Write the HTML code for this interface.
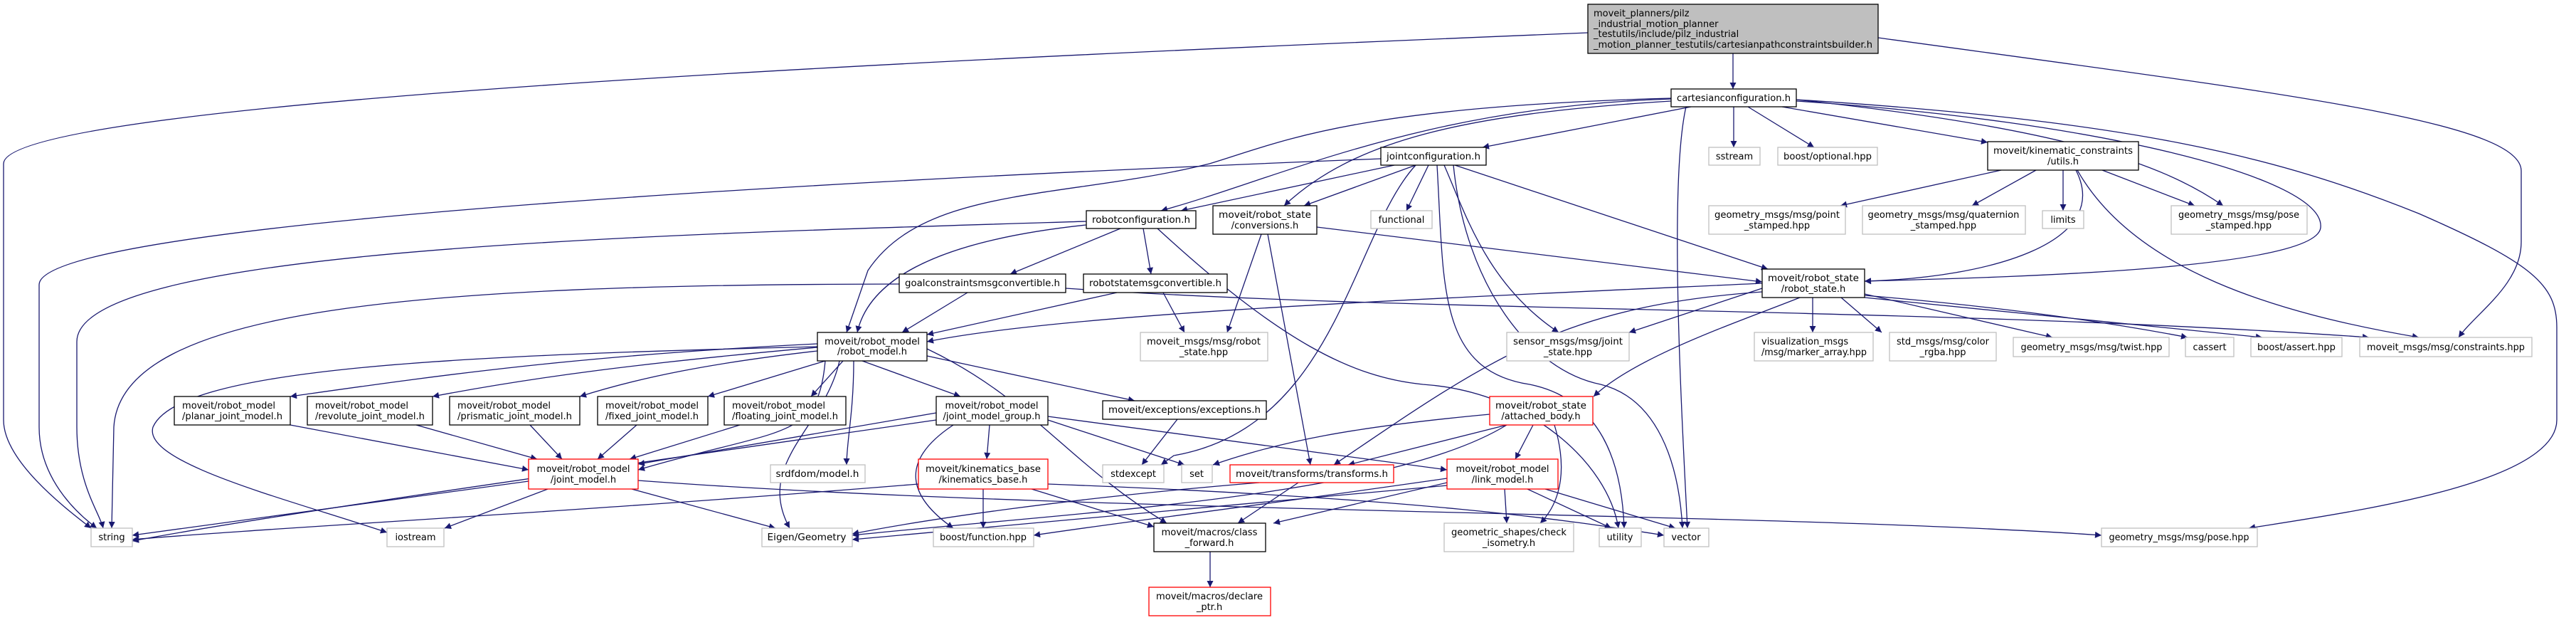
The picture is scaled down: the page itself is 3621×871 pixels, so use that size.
<!DOCTYPE html>
<html><head><meta charset="utf-8"><style>
html,body{margin:0;padding:0;background:#fff;width:3621px;height:871px;overflow:hidden}
svg text{font-family:"DejaVu Sans","Liberation Sans",sans-serif;font-size:13px;fill:#000}
.e{fill:none;stroke:#191970;stroke-width:1.3}
.n{fill:#fff;stroke:#000;stroke-width:1.3}
.g{fill:#fff;stroke:#bfbfbf;stroke-width:1.3}
.r{fill:#fff;stroke:#ff0000;stroke-width:1.3}
</style></head><body>
<svg width="3621" height="871" viewBox="0 0 3621 871" xmlns="http://www.w3.org/2000/svg">
<defs><marker id="a" viewBox="0 0 10 10" refX="10" refY="5" markerWidth="10" markerHeight="9" markerUnits="userSpaceOnUse" orient="auto"><path d="M0,0 L10,5 L0,10 z" fill="#191970"/></marker></defs>
<g class="e" marker-end="url(#a)">
<path d="M2436 75 L2436 125"/>
<path d="M2232 46 C1400 80 5 140 5 230 L5 590 C5 650 100 720 128 742"/>
<path d="M2640 53 C3200 130 3544 170 3544 240 L3544 340 C3544 400 3480 440 3456 474"/>
<path d="M2525 140 C3000 170 3200 220 3400 300 C3560 370 3594 400 3594 460 L3594 590 C3594 680 3300 720 3161 742"/>
<path d="M2525 142 C2950 170 3270 250 3262 320 C3255 380 2800 390 2621 395"/>
<path d="M2525 140 C2900 180 3040 230 3125 289"/>
<path d="M2505 150 L2794 200"/>
<path d="M2457 150 L2550 207"/>
<path d="M2437 150 L2437 207"/>
<path d="M2377 150 L2084 207"/>
<path d="M2370 150 C2345 260 2365 600 2372 742"/>
<path d="M2349 138 C1900 150 1800 200 1700 230 C1500 280 1300 260 1220 380 L1190 467"/>
<path d="M2349 139 C2000 150 1800 250 1632 296"/>
<path d="M2349 142 C2050 160 1900 200 1805 289"/>
<path d="M1941 223 C1000 260 55 320 55 400 L55 600 C55 680 120 730 136 742"/>
<path d="M1527 311 C900 330 108 350 108 480 L108 600 C108 680 140 720 145 742"/>
<path d="M1264 399 C600 400 170 430 160 600 L157 742"/>
<path d="M1960 232 L1660 296"/>
<path d="M1990 232 L1833 289"/>
<path d="M2008 232 L1977 296"/>
<path d="M2045 232 L2485 378"/>
<path d="M2030 232 C2060 300 2090 400 2191 467"/>
<path d="M2020 232 C2030 400 2020 520 2150 540 C2250 560 2280 650 2283 742"/>
<path d="M2043 232 C2060 400 2150 520 2250 540 C2330 560 2360 650 2365 742"/>
<path d="M1990 232 C1900 330 1880 600 1650 640 L1632 653"/>
<path d="M1575 321 L1420 385"/>
<path d="M1607 321 L1618 385"/>
<path d="M1527 316 C1300 340 1220 400 1205 467"/>
<path d="M1627 321 C1800 480 1900 530 2000 540 C2150 550 2260 650 2275 742"/>
<path d="M1851 319 L2477 396"/>
<path d="M1773 329 L1725 467"/>
<path d="M1782 329 L1842 653"/>
<path d="M1360 411 L1268 467"/>
<path d="M1498 405 C2000 440 2700 430 3330 474"/>
<path d="M1570 411 L1303 470"/>
<path d="M1635 411 L1665 467"/>
<path d="M2813 239 L2587 289"/>
<path d="M2862 239 L2772 289"/>
<path d="M2900 239 L2900 296"/>
<path d="M2955 239 L3085 289"/>
<path d="M2918 239 C2970 340 2800 390 2621 395"/>
<path d="M2920 239 C3000 380 3200 440 3400 474"/>
<path d="M2477 398 C2000 420 1500 440 1303 480"/>
<path d="M2477 405 L2290 467"/>
<path d="M2548 418 L2548 467"/>
<path d="M2588 418 L2645 467"/>
<path d="M2621 413 L2885 474"/>
<path d="M2621 415 C2800 430 2950 450 3075 474"/>
<path d="M2621 418 L3180 474"/>
<path d="M2530 418 C2450 450 2300 500 2240 557"/>
<path d="M2477 410 C2200 430 2100 500 1875 653"/>
<path d="M1149 483 C800 500 600 530 408 557"/>
<path d="M1149 488 C900 510 750 530 608 557"/>
<path d="M1149 493 C1000 510 900 530 815 557"/>
<path d="M1160 507 L995 557"/>
<path d="M1185 507 L1140 557"/>
<path d="M1212 507 L1350 557"/>
<path d="M1303 500 L1595 563"/>
<path d="M1200 507 C1200 580 1190 620 1190 653"/>
<path d="M1180 507 C1160 600 1060 650 1110 742"/>
<path d="M1149 487 C600 500 250 520 215 600 C200 650 400 700 544 748"/>
<path d="M1303 490 C1450 560 1500 650 1640 735"/>
<path d="M1160 507 C1150 620 1100 600 897 660"/>
<path d="M408 597 L743 660"/>
<path d="M585 597 L755 645"/>
<path d="M745 597 L790 645"/>
<path d="M895 597 L840 645"/>
<path d="M1040 597 L885 645"/>
<path d="M743 676 L186 752"/>
<path d="M770 687 L625 742"/>
<path d="M888 687 L1090 742"/>
<path d="M897 675 C1500 720 2500 720 2954 752"/>
<path d="M1391 597 L1387 645"/>
<path d="M1340 597 C1260 650 1280 700 1340 742"/>
<path d="M1473 590 L1665 653"/>
<path d="M1473 585 L2034 660"/>
<path d="M1316 590 C900 650 400 720 186 760"/>
<path d="M1316 580 L897 652"/>
<path d="M1382 687 L1382 742"/>
<path d="M1450 687 L1622 740"/>
<path d="M1291 680 C800 720 400 740 186 758"/>
<path d="M1473 680 C2000 700 2200 730 2339 752"/>
<path d="M1655 589 L1605 653"/>
<path d="M2155 597 L2130 645"/>
<path d="M2118 597 L1895 653"/>
<path d="M2094 582 C1900 600 1800 620 1705 653"/>
<path d="M2185 597 C2210 680 2180 720 2165 735"/>
<path d="M2118 597 C1950 700 1500 720 1198 752"/>
<path d="M1825 678 L1740 735"/>
<path d="M1770 678 C1500 700 1300 730 1198 750"/>
<path d="M2034 678 L1790 735"/>
<path d="M2115 687 L2118 735"/>
<path d="M2147 687 L2265 742"/>
<path d="M2172 687 L2355 742"/>
<path d="M2034 682 L1198 758"/>
<path d="M2034 672 C1700 720 1600 730 1453 752"/>
<path d="M1701 775 L1701 825"/>
</g>
<!-- nodes -->
<rect x="2232" y="6" width="408" height="69" fill="#bfbfbf" stroke="#000" stroke-width="1.3"/>
<text x="2240" y="23">moveit_planners/pilz</text>
<text x="2240" y="38">_industrial_motion_planner</text>
<text x="2240" y="52">_testutils/include/pilz_industrial</text>
<text x="2240" y="67" textLength="392" lengthAdjust="spacingAndGlyphs">_motion_planner_testutils/cartesianpathconstraintsbuilder.h</text>

<rect class="n" x="2349" y="125" width="176" height="25"/><text x="2437" y="142" text-anchor="middle" textLength="160" lengthAdjust="spacingAndGlyphs">cartesianconfiguration.h</text>
<rect class="n" x="1941" y="207" width="148" height="25"/><text x="2015" y="224" text-anchor="middle" textLength="132" lengthAdjust="spacingAndGlyphs">jointconfiguration.h</text>
<rect class="n" x="1527" y="296" width="154" height="25"/><text x="1604" y="313" text-anchor="middle" textLength="138" lengthAdjust="spacingAndGlyphs">robotconfiguration.h</text>
<rect class="n" x="1705" y="289" width="146" height="40"/><text x="1778" y="306" text-anchor="middle" textLength="130" lengthAdjust="spacingAndGlyphs">moveit/robot_state</text><text x="1778" y="321" text-anchor="middle">/conversions.h</text>
<rect class="g" x="1927" y="296" width="86" height="25"/><text x="1970" y="313" text-anchor="middle">functional</text>
<rect class="n" x="1264" y="385" width="234" height="26"/><text x="1381" y="402" text-anchor="middle" textLength="218" lengthAdjust="spacingAndGlyphs">goalconstraintsmsgconvertible.h</text>
<rect class="n" x="1523" y="385" width="202" height="26"/><text x="1624" y="402" text-anchor="middle" textLength="186" lengthAdjust="spacingAndGlyphs">robotstatemsgconvertible.h</text>
<rect class="g" x="2402" y="207" width="72" height="25"/><text x="2438" y="224" text-anchor="middle">sstream</text>
<rect class="g" x="2499" y="207" width="140" height="25"/><text x="2569" y="224" text-anchor="middle" textLength="124" lengthAdjust="spacingAndGlyphs">boost/optional.hpp</text>
<rect class="n" x="2794" y="199" width="212" height="40"/><text x="2900" y="216" text-anchor="middle" textLength="196" lengthAdjust="spacingAndGlyphs">moveit/kinematic_constraints</text><text x="2900" y="231" text-anchor="middle">/utils.h</text>
<rect class="g" x="2402" y="289" width="192" height="40"/><text x="2498" y="306" text-anchor="middle" textLength="176" lengthAdjust="spacingAndGlyphs">geometry_msgs/msg/point</text><text x="2498" y="321" text-anchor="middle">_stamped.hpp</text>
<rect class="g" x="2618" y="289" width="229" height="40"/><text x="2732" y="306" text-anchor="middle" textLength="213" lengthAdjust="spacingAndGlyphs">geometry_msgs/msg/quaternion</text><text x="2732" y="321" text-anchor="middle">_stamped.hpp</text>
<rect class="g" x="2871" y="296" width="58" height="25"/><text x="2900" y="313" text-anchor="middle">limits</text>
<rect class="g" x="3052" y="289" width="191" height="40"/><text x="3147" y="306" text-anchor="middle" textLength="170" lengthAdjust="spacingAndGlyphs">geometry_msgs/msg/pose</text><text x="3147" y="321" text-anchor="middle">_stamped.hpp</text>
<rect class="n" x="2477" y="378" width="144" height="40"/><text x="2549" y="395" text-anchor="middle" textLength="128" lengthAdjust="spacingAndGlyphs">moveit/robot_state</text><text x="2549" y="410" text-anchor="middle">/robot_state.h</text>
<rect class="n" x="1149" y="467" width="154" height="40"/><text x="1226" y="484" text-anchor="middle" textLength="134" lengthAdjust="spacingAndGlyphs">moveit/robot_model</text><text x="1226" y="498" text-anchor="middle">/robot_model.h</text>
<rect class="n" x="245" y="557" width="163" height="40"/><text x="256" y="574" textLength="131" lengthAdjust="spacingAndGlyphs">moveit/robot_model</text><text x="256" y="589" textLength="141" lengthAdjust="spacingAndGlyphs">/planar_joint_model.h</text>
<rect class="n" x="432" y="557" width="176" height="40"/><text x="443" y="574" textLength="131" lengthAdjust="spacingAndGlyphs">moveit/robot_model</text><text x="443" y="589" textLength="154" lengthAdjust="spacingAndGlyphs">/revolute_joint_model.h</text>
<rect class="n" x="632" y="557" width="183" height="40"/><text x="643" y="574" textLength="131" lengthAdjust="spacingAndGlyphs">moveit/robot_model</text><text x="643" y="589" textLength="161" lengthAdjust="spacingAndGlyphs">/prismatic_joint_model.h</text>
<rect class="n" x="840" y="557" width="155" height="40"/><text x="851" y="574" textLength="131" lengthAdjust="spacingAndGlyphs">moveit/robot_model</text><text x="851" y="589" textLength="131" lengthAdjust="spacingAndGlyphs">/fixed_joint_model.h</text>
<rect class="n" x="1018" y="557" width="171" height="40"/><text x="1029" y="574" textLength="131" lengthAdjust="spacingAndGlyphs">moveit/robot_model</text><text x="1029" y="589" textLength="149" lengthAdjust="spacingAndGlyphs">/floating_joint_model.h</text>
<rect class="r" x="743" y="645" width="154" height="42"/><text x="820" y="663" text-anchor="middle" textLength="131" lengthAdjust="spacingAndGlyphs">moveit/robot_model</text><text x="820" y="678" text-anchor="middle">/joint_model.h</text>
<rect class="g" x="1083" y="653" width="133" height="25"/><text x="1149" y="670" text-anchor="middle" textLength="117" lengthAdjust="spacingAndGlyphs">srdfdom/model.h</text>
<rect class="g" x="128" y="742" width="58" height="26"/><text x="157" y="759" text-anchor="middle">string</text>
<rect class="g" x="544" y="742" width="80" height="26"/><text x="584" y="759" text-anchor="middle">iostream</text>
<rect class="g" x="1071" y="742" width="127" height="26"/><text x="1134" y="759" text-anchor="middle" textLength="111" lengthAdjust="spacingAndGlyphs">Eigen/Geometry</text>
<rect class="g" x="1603" y="467" width="179" height="40"/><text x="1692" y="484" text-anchor="middle" textLength="160" lengthAdjust="spacingAndGlyphs">moveit_msgs/msg/robot</text><text x="1692" y="499" text-anchor="middle">_state.hpp</text>
<rect class="g" x="2118" y="467" width="172" height="40"/><text x="2204" y="484" text-anchor="middle" textLength="154" lengthAdjust="spacingAndGlyphs">sensor_msgs/msg/joint</text><text x="2204" y="499" text-anchor="middle">_state.hpp</text>
<rect class="n" x="1316" y="557" width="157" height="40"/><text x="1394" y="574" text-anchor="middle" textLength="131" lengthAdjust="spacingAndGlyphs">moveit/robot_model</text><text x="1394" y="589" text-anchor="middle" textLength="137" lengthAdjust="spacingAndGlyphs">/joint_model_group.h</text>
<rect class="n" x="1550" y="563" width="230" height="26"/><text x="1665" y="580" text-anchor="middle" textLength="214" lengthAdjust="spacingAndGlyphs">moveit/exceptions/exceptions.h</text>
<rect class="r" x="2094" y="557" width="145" height="40"/><text x="2166" y="574" text-anchor="middle" textLength="128" lengthAdjust="spacingAndGlyphs">moveit/robot_state</text><text x="2166" y="589" text-anchor="middle">/attached_body.h</text>
<rect class="r" x="1291" y="645" width="182" height="42"/><text x="1382" y="663" text-anchor="middle" textLength="162" lengthAdjust="spacingAndGlyphs">moveit/kinematics_base</text><text x="1382" y="678" text-anchor="middle">/kinematics_base.h</text>
<rect class="g" x="1550" y="653" width="86" height="25"/><text x="1593" y="670" text-anchor="middle">stdexcept</text>
<rect class="g" x="1661" y="653" width="43" height="25"/><text x="1682" y="670" text-anchor="middle">set</text>
<rect class="r" x="1729" y="653" width="230" height="25"/><text x="1844" y="670" text-anchor="middle" textLength="214" lengthAdjust="spacingAndGlyphs">moveit/transforms/transforms.h</text>
<rect class="r" x="2034" y="645" width="156" height="42"/><text x="2112" y="663" text-anchor="middle" textLength="131" lengthAdjust="spacingAndGlyphs">moveit/robot_model</text><text x="2112" y="678" text-anchor="middle">/link_model.h</text>
<rect class="g" x="1312" y="742" width="141" height="26"/><text x="1382" y="759" text-anchor="middle" textLength="122" lengthAdjust="spacingAndGlyphs">boost/function.hpp</text>
<rect class="n" x="1622" y="735" width="157" height="40"/><text x="1700" y="752" text-anchor="middle" textLength="135" lengthAdjust="spacingAndGlyphs">moveit/macros/class</text><text x="1700" y="767" text-anchor="middle">_forward.h</text>
<rect class="g" x="2030" y="735" width="182" height="40"/><text x="2121" y="752" text-anchor="middle" textLength="162" lengthAdjust="spacingAndGlyphs">geometric_shapes/check</text><text x="2121" y="767" text-anchor="middle">_isometry.h</text>
<rect class="g" x="2248" y="742" width="59" height="26"/><text x="2277" y="759" text-anchor="middle">utility</text>
<rect class="g" x="2339" y="742" width="63" height="26"/><text x="2370" y="759" text-anchor="middle">vector</text>
<rect class="r" x="1615" y="825" width="171" height="40"/><text x="1700" y="842" text-anchor="middle" textLength="150" lengthAdjust="spacingAndGlyphs">moveit/macros/declare</text><text x="1700" y="857" text-anchor="middle">_ptr.h</text>
<rect class="g" x="2466" y="467" width="167" height="40"/><text x="2476" y="484">visualization_msgs</text><text x="2476" y="499" textLength="148" lengthAdjust="spacingAndGlyphs">/msg/marker_array.hpp</text>
<rect class="g" x="2656" y="467" width="150" height="40"/><text x="2731" y="484" text-anchor="middle" textLength="130" lengthAdjust="spacingAndGlyphs">std_msgs/msg/color</text><text x="2731" y="499" text-anchor="middle">_rgba.hpp</text>
<rect class="g" x="2830" y="474" width="219" height="27"/><text x="2940" y="492" text-anchor="middle" textLength="199" lengthAdjust="spacingAndGlyphs">geometry_msgs/msg/twist.hpp</text>
<rect class="g" x="3072" y="474" width="68" height="27"/><text x="3106" y="492" text-anchor="middle">cassert</text>
<rect class="g" x="3164" y="474" width="128" height="27"/><text x="3228" y="492" text-anchor="middle" textLength="110" lengthAdjust="spacingAndGlyphs">boost/assert.hpp</text>
<rect class="g" x="3317" y="474" width="242" height="27"/><text x="3438" y="492" text-anchor="middle" textLength="222" lengthAdjust="spacingAndGlyphs">moveit_msgs/msg/constraints.hpp</text>
<rect class="g" x="2954" y="742" width="219" height="26"/><text x="3063" y="759" text-anchor="middle" textLength="197" lengthAdjust="spacingAndGlyphs">geometry_msgs/msg/pose.hpp</text>
</svg>
</body></html>
